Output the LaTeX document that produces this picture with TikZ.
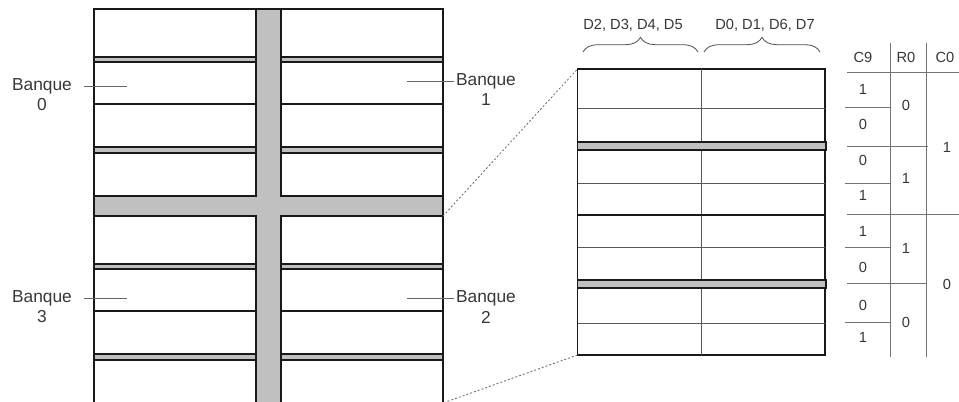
\documentclass[tikz,border=0pt]{standalone}
\usepackage{fontspec}
\setmainfont{Liberation Sans}
\usetikzlibrary{decorations.pathreplacing}
\definecolor{barre}{RGB}{192,192,192}
\definecolor{texte}{RGB}{55,55,55}

\begin{document}
\begin{tikzpicture}[x=0.75pt, y=-0.75pt,
  bord/.style={draw=black!90, line width=1.1pt},
  mince/.style={draw=black!65, line width=0.6pt},
  bande/.style={fill=barre, draw=black!90, line width=1.1pt},
  repere/.style={draw=black!60, line width=0.6pt},
  regle/.style={draw=black!55, line width=0.6pt},
  loupe/.style={draw=black!60, line width=0.6pt, dash pattern=on 1.5pt off 1.5pt},
  accolade/.style={draw=black!70, line width=0.6pt, decorate, decoration={brace, amplitude=11pt}},
  etiq/.style={text=texte, font=\fontsize{13}{15}\selectfont, inner sep=0pt},
  petit/.style={text=texte, font=\fontsize{11}{13}\selectfont, inner sep=0pt}]
  \useasboundingbox (0,0) rectangle (959,401);
  \clip (0,0) rectangle (959,401);

  % croix grise entre les 4 banques
  \fill[barre] (256,9) rectangle (281,410);
  \fill[barre] (94,196) rectangle (443,216);
  % les 4 banques : lignes et bandes grises
  \foreach \xa/\xb in {94/256, 281/443} {
    \foreach \ya/\yb in {9/196, 216/410} {
      \draw[bord] (\xa,\ya) rectangle (\xb,\yb);
      \draw[bande] (\xa,{\ya+48}) rectangle (\xb,{\ya+53});
      \draw[bord] (\xa,{\ya+95}) -- (\xb,{\ya+95});
      \draw[bande] (\xa,{\ya+138}) rectangle (\xb,{\ya+144});
    }
  }
  % contour exterieur
  \draw[bord] (94,9) -- (443,9);
  \draw[bord] (94,196) -- (94,216);
  \draw[bord] (443,196) -- (443,216);

  % noms des banques
  \node[etiq] (b0) at (42,86) {Banque};
  \node[etiq] (n0) at (42,105) {0};
  \node[etiq] (b1) at (486,81) {Banque};
  \node[etiq] (n1) at (486,100) {1};
  \node[etiq] (b3) at (42,298) {Banque};
  \node[etiq] (n3) at (42,317) {3};
  \node[etiq] (b2) at (486,298) {Banque};
  \node[etiq] (n2) at (486,317) {2};
  \coordinate (p0) at (127,86);
  \coordinate (p1) at (407,81);
  \coordinate (p3) at (127,298);
  \coordinate (p2) at (407,298);
  \draw[repere, shorten <=9pt] (b0.east) -- (p0);
  \draw[repere, shorten <=9pt] (b3.east) -- (p3);
  \draw[repere, shorten <=1.5pt] (b1.west) -- (p1);
  \draw[repere, shorten <=1.5pt] (b2.west) -- (p2);

  % zoom sur une ligne
  \draw[bord] (577.5,69) rectangle (825,355);
  \draw[mince] (701,69) -- (701,355);
  \foreach \y in {108.5, 183, 247, 323.5}
    \draw[mince] (577.5,\y) -- (825,\y);
  \draw[bord] (577.5,215) -- (825,215);
  \foreach \y in {142, 280}
    \draw[bande] (577.5,\y) rectangle (826,{\y+8});
  \coordinate (zh) at (577.5,69);
  \coordinate (zb) at (577.5,355);
  \coordinate (bh) at (443,216);
  \coordinate (bb) at (443,403);
  \draw[loupe] (bh) -- (zh);
  \draw[loupe] (zb) -- (bb);

  % bits de donnees
  \coordinate (g1) at (583,52);
  \coordinate (g2) at (698,52);
  \coordinate (d1) at (704,52);
  \coordinate (d2) at (820,52);
  \draw[accolade] (g1) -- (g2);
  \draw[accolade] (d1) -- (d2);
  \node[petit] (dg) at (633,25) {D2, D3, D4, D5};
  \node[petit] (dd) at (765,25) {D0, D1, D6, D7};

  % table C9 / R0 / C0
  \node[petit] (c9) at (863,57) {C9};
  \node[petit] (r0) at (906,57) {R0};
  \node[petit] (c0) at (945,57) {C0};
  \draw[regle] (890,43) -- (890,357);
  \draw[regle] (926,43) -- (926,357);
  \draw[regle] (847,72) -- (959,72);
  \draw[regle] (847,214) -- (959,214);
  \draw[regle] (847,146) -- (928,146);
  \draw[regle] (847,283) -- (926,283);
  \foreach \y in {107, 183, 247, 322}
    \draw[regle] (845,\y) -- (890,\y);
  \foreach \y/\v [count=\i] in {89/1, 124/0, 160/0, 195/1, 231/1, 267/0, 305/0, 337/1}
    \node[petit] (c9-\i) at (863,\y) {\v};
  \foreach \y/\v [count=\i] in {105/0, 178/1, 248/1, 322/0}
    \node[petit] (r0-\i) at (906,\y) {\v};
  \foreach \y/\v [count=\i] in {147/1, 284/0}
    \node[petit] (c0-\i) at (947,\y) {\v};
\end{tikzpicture}
\end{document}
